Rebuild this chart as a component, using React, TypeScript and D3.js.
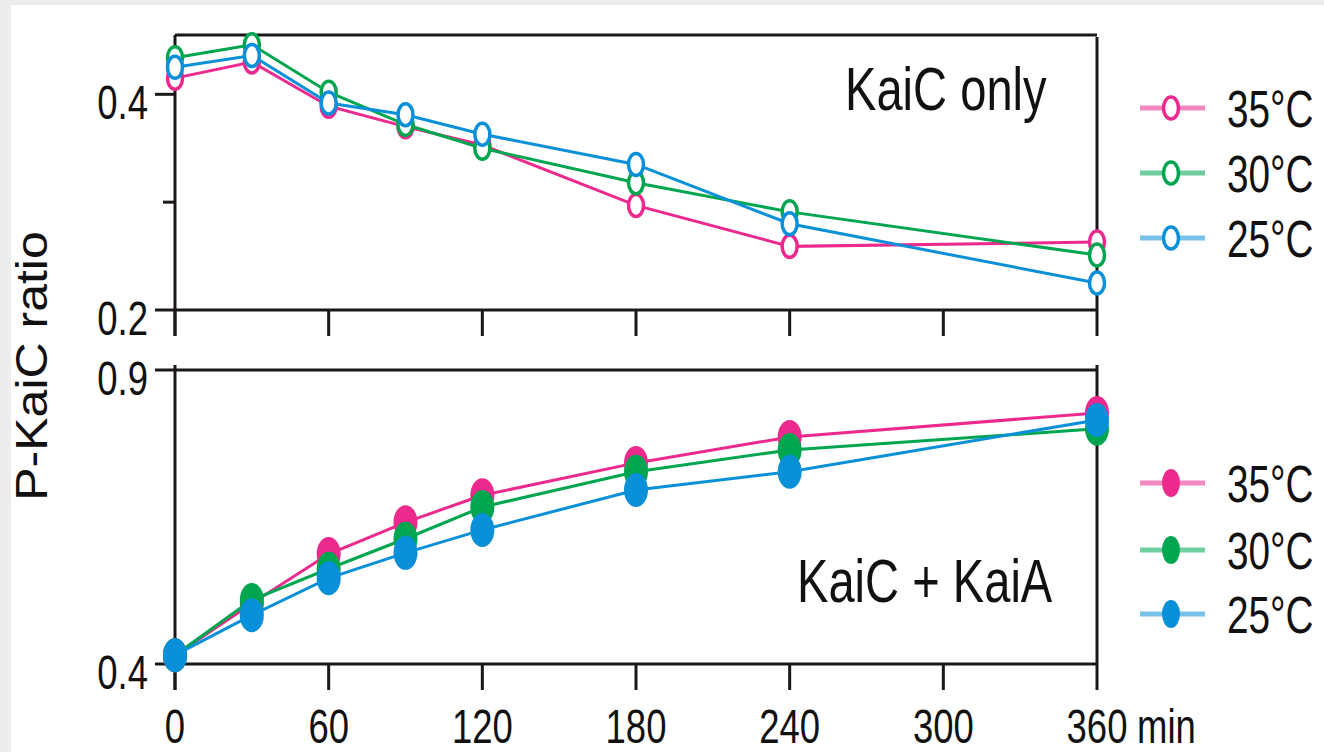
import { useEffect, useRef } from 'react'
import * as d3 from 'd3'

// sampling times (min)
const times = [0, 30, 60, 90, 120, 180, 240, 360]
const xTicks = [0, 60, 120, 180, 240, 300, 360]
const temps = ['35°C', '30°C', '25°C']
const colors = ['#ec2a8e', '#00a64f', '#0a90d8']

// KaiC only (open markers)
const kaicOnly35 = [0.415, 0.430, 0.389, 0.370, 0.353, 0.297, 0.259, 0.263]
const kaicOnly30 = [0.434, 0.446, 0.402, 0.372, 0.350, 0.318, 0.291, 0.251]
const kaicOnly25 = [0.425, 0.436, 0.392, 0.381, 0.363, 0.335, 0.280, 0.225]

// KaiC + KaiA (filled markers)
const kaia35 = [0.415, 0.503, 0.587, 0.641, 0.687, 0.742, 0.786, 0.827]
const kaia30 = [0.415, 0.509, 0.562, 0.613, 0.667, 0.727, 0.764, 0.800]
const kaia25 = [0.415, 0.483, 0.546, 0.589, 0.628, 0.696, 0.727, 0.815]

const topTicks = [0.2, 0.3, 0.4]
const topTickLabels = ['0.2', '', '0.4']
const bottomTicks = [0.4, 0.9]
const bottomTickLabels = ['0.4', '0.9']

const W = 1324
const H = 752
const FONT = 'Liberation Sans, Arial, Helvetica, sans-serif'
const INK = '#1d1818'
const SQ = 0.76 // horizontal squeeze of the scanned figure

export default function App() {
  const svgRef = useRef<SVGSVGElement>(null)

  useEffect(() => {
    if (!svgRef.current) return
    const svg = d3.select(svgRef.current)
    svg.selectAll('*').remove()

    // background
    svg.append('rect').attr('width', W).attr('height', H).style('fill', '#ededed')
    svg.append('rect').attr('x', 11).attr('y', 5).attr('width', W - 11).attr('height', H - 5).style('fill', '#fff')

    const x = d3.scaleLinear().domain([0, 360]).range([175, 1097])
    const yTop = d3.scaleLinear().domain([0.2, 0.455]).range([310, 35])
    const yBot = d3.scaleLinear().domain([0.4, 0.9]).range([664, 370])

    const label = (tx: number, ty: number, str: string, size: number, anchor = 'start') => {
      svg.append('text')
        .attr('transform', `translate(${tx},${ty}) scale(${SQ},1)`)
        .attr('text-anchor', anchor)
        .style('font-family', FONT)
        .style('font-size', `${size}px`)
        .style('fill', '#111')
        .text(str)
    }

    const seg = (x1: number, y1: number, x2: number, y2: number) => {
      svg.append('line')
        .attr('x1', x1).attr('y1', y1).attr('x2', x2).attr('y2', y2)
        .style('stroke', INK)
        .style('stroke-width', '3px')
    }

    // frames
    const drawFrame = (y: d3.ScaleLinear<number, number>, ticks: number[], labels: string[], topExt: number) => {
      const [x0, x1] = x.range()
      const [yb, yt] = y.range()
      seg(x0, yt, x1, yt)
      seg(x0, yb, x1, yb)
      seg(x0, yt - topExt, x0, yb + 26)
      seg(x1, yt - topExt + (topExt ? 0 : 2), x1, yb)
      xTicks.forEach(t => seg(x(t), yb, x(t), yb + 26))
      ticks.forEach((t, i) => {
        const major = labels[i] !== ''
        seg(x0 - (major ? 20 : 12), y(t), x0, y(t))
        if (major) label(148, y(t) + 25, labels[i], 48, 'end')
      })
    }
    drawFrame(yTop, topTicks, topTickLabels, 0)
    drawFrame(yBot, bottomTicks, bottomTickLabels, 5)

    const line = (y: d3.ScaleLinear<number, number>) =>
      d3.line<number>().x((_, i) => x(times[i])).y(d => y(d))

    // KaiC only
    const topSeries = [kaicOnly35, kaicOnly30, kaicOnly25]
    topSeries.forEach((s, k) => {
      svg.append('path')
        .datum(s)
        .attr('d', line(yTop))
        .style('fill', 'none')
        .style('stroke', colors[k])
        .style('stroke-width', '3px')
      s.forEach((v, i) => {
        svg.append('ellipse')
          .attr('cx', x(times[i])).attr('cy', yTop(v))
          .attr('rx', 7.5).attr('ry', 11)
          .style('fill', '#fff')
          .style('stroke', colors[k])
          .style('stroke-width', '3.5px')
      })
    })

    // KaiC + KaiA
    const botSeries = [kaia35, kaia30, kaia25]
    botSeries.forEach((s, k) => {
      svg.append('path')
        .datum(s)
        .attr('d', line(yBot))
        .style('fill', 'none')
        .style('stroke', colors[k])
        .style('stroke-width', '3px')
      s.forEach((v, i) => {
        svg.append('ellipse')
          .attr('cx', x(times[i])).attr('cy', yBot(v))
          .attr('rx', 12).attr('ry', 17)
          .style('fill', colors[k])
      })
    })

    // panel titles
    label(845, 110, 'KaiC only', 62)
    label(797, 602, 'KaiC + KaiA', 62)

    // x tick labels
    xTicks.forEach(t => label(x(t), 743, String(t), 48, 'middle'))
    label(1137, 743, 'min', 48)

    // y axis title
    svg.append('text')
      .attr('transform', `translate(47,366) scale(0.88,1) rotate(-90)`)
      .attr('text-anchor', 'middle')
      .style('font-family', FONT)
      .style('font-size', '50px')
      .style('fill', '#111')
      .text('P-KaiC ratio')

    // legends
    const legend = (rows: number[], filled: boolean) => {
      rows.forEach((ry, k) => {
        svg.append('line')
          .attr('x1', 1140).attr('x2', 1205).attr('y1', ry).attr('y2', ry)
          .style('stroke', colors[k])
          .style('stroke-width', '5px')
          .style('opacity', 0.55)
        svg.append('ellipse')
          .attr('cx', 1171).attr('cy', ry)
          .attr('rx', filled ? 9 : 7.5).attr('ry', filled ? 14 : 11)
          .style('fill', filled ? colors[k] : '#fff')
          .style('stroke', colors[k])
          .style('stroke-width', filled ? '0px' : '3.5px')
        label(1227, ry + 19, temps[k], 51)
      })
    }
    legend([108, 173, 238], false)
    legend([483, 550, 614], true)
  }, [])

  return (
    <div style={{ position: 'fixed', left: 0, top: 0 }}>
      <svg ref={svgRef} width={W} height={H} style={{ display: 'block' }} />
    </div>
  )
}
